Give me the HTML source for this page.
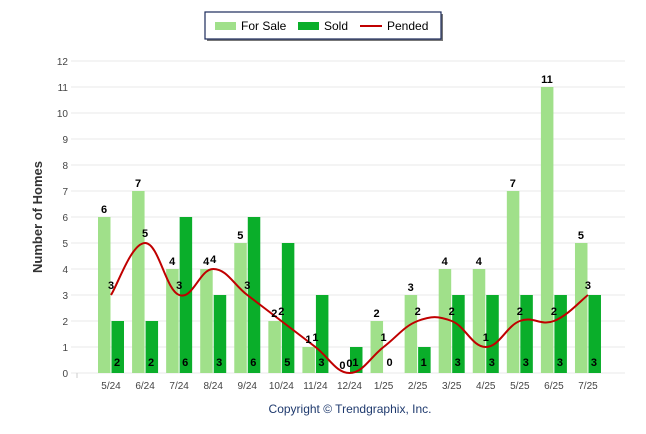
<!DOCTYPE html>
<html><head><meta charset="utf-8"><style>
body{margin:0;background:#fff;}
svg{display:block;font-family:"Liberation Sans",Arial,sans-serif;}
</style></head><body>
<svg id="c" width="646" height="434">
<g id="grid"></g>
<g id="bars"></g>
<path id="pline" fill="none" stroke="#c00000" stroke-width="2"/>
<g id="labels"></g>
<text transform="translate(42,217) rotate(-90)" text-anchor="middle" font-size="13" font-weight="bold" fill="#333">Number of Homes</text>
<text x="350" y="413" text-anchor="middle" font-size="12" fill="#1f3a6e">Copyright © Trendgraphix, Inc.</text>
<g>
<rect x="207" y="14" width="236" height="27" fill="#777"/>
<rect x="205" y="12" width="236" height="27" fill="#fff" stroke="#1a2a5a" stroke-width="1.2"/>
<rect x="215" y="22" width="21" height="8" fill="#a0e08a"/>
<text x="241" y="30" font-size="12" fill="#000">For Sale</text>
<rect x="298" y="22" width="21" height="8" fill="#0aae2a"/>
<text x="324" y="30" font-size="12" fill="#000">Sold</text>
<line x1="360" y1="26" x2="382" y2="26" stroke="#c00000" stroke-width="2"/>
<text x="387" y="30" font-size="12" fill="#000">Pended</text>
</g>
</svg>
<script>
const categories=["5/24","6/24","7/24","8/24","9/24","10/24","11/24","12/24","1/25","2/25","3/25","4/25","5/25","6/25","7/25"];
const forSale=[6,7,4,4,5,2,1,0,2,3,4,4,7,11,5];
const sold=[2,2,6,3,6,5,3,1,0,1,3,3,3,3,3];
const pended=[3,5,3,4,3,2,1,0,1,2,2,1,2,2,3];
const yTicks=[0,1,2,3,4,5,6,7,8,9,10,11,12];
const NS="http://www.w3.org/2000/svg";
const y0=373,unit=26,x0=111,step=34.07;
function ys(v){return y0-v*unit;}
function xs(i){return x0+i*step;}
function mk(t,a,p){const e=document.createElementNS(NS,t);for(const k in a)e.setAttribute(k,a[k]);p.appendChild(e);return e;}
const grid=document.getElementById('grid'),bars=document.getElementById('bars'),labels=document.getElementById('labels');
yTicks.forEach(v=>{
 const l=mk('line',{x1:71,x2:625,y1:ys(v),y2:ys(v),stroke:'#e8e8e8','stroke-width':1},grid);
 
 
 const t=mk('text',{x:68,y:ys(v)+4,'text-anchor':'end','font-size':10,fill:'#444'},grid);
 t.textContent=v;
 
 
});
mk('line',{x1:77,x2:77,y1:y0,y2:y0+5,stroke:'#ccc'},grid);
categories.forEach((c,i)=>{
 const cx=xs(i);
 const t=mk('text',{x:cx,y:389,'text-anchor':'middle','font-size':10,fill:'#444'},grid);
 t.textContent=c;
 
 
 const b1=mk('rect',{x:cx-13,y:ys(forSale[i]),width:12.5,height:forSale[i]*unit,fill:'#a0e08a'},bars);
 
 
 const b2=mk('rect',{x:cx+0.5,y:ys(sold[i]),width:12.5,height:sold[i]*unit,fill:'#0aae2a'},bars);
 
 
 const l1=mk('text',{x:cx-7,y:ys(forSale[i])-4,'text-anchor':'middle','font-size':11,'font-weight':'bold'},labels);
 l1.textContent=forSale[i];
 
 
 const l2=mk('text',{x:cx+6,y:366,'text-anchor':'middle','font-size':11,'font-weight':'bold'},labels);
 l2.textContent=sold[i];
 
 
 const l3=mk('text',{x:cx,y:ys(pended[i])-6,'text-anchor':'middle','font-size':11,'font-weight':'bold'},labels);
 l3.textContent=pended[i];
 
 
});
const pts=pended.map((v,i)=>[xs(i),ys(v)]);
let d='M'+pts[0][0]+','+pts[0][1];
for(let i=0;i<pts.length-1;i++){
 const p0=pts[Math.max(0,i-1)],p1=pts[i],p2=pts[i+1],p3=pts[Math.min(pts.length-1,i+2)];
 const t=0.2;
 const c1=[p1[0]+(p2[0]-p0[0])*t,p1[1]+(p2[1]-p0[1])*t];
 const c2=[p2[0]-(p3[0]-p1[0])*t,p2[1]-(p3[1]-p1[1])*t];
 d+=' C'+c1.join(',')+' '+c2.join(',')+' '+p2.join(',');
}
document.getElementById('pline').setAttribute('d',d);
</script>
</body></html>
